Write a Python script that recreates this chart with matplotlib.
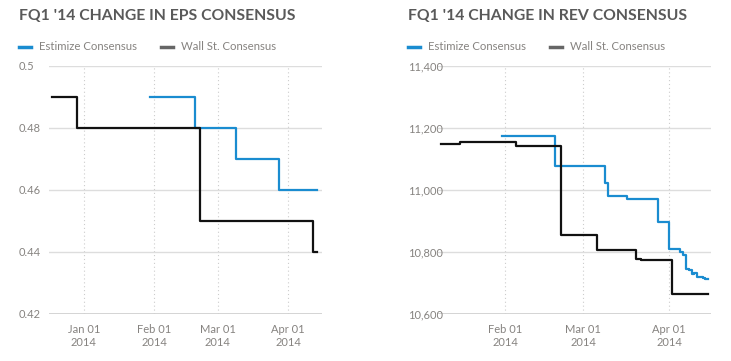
import numpy as np
import pandas as pd
from matplotlib import pyplot as plt
from matplotlib.lines import Line2D
import matplotlib.dates as mdates
from matplotlib.ticker import FuncFormatter

plt.rcParams['font.family'] = ['Lato', 'DejaVu Sans']

# EPS consensus (step changes)
eps_ws_dates = ['2013-12-18', '2013-12-29', '2014-02-21', '2014-04-12', '2014-04-14']
eps_ws_vals = [0.49, 0.48, 0.45, 0.44, 0.44]
eps_est_dates = ['2014-01-30', '2014-02-19', '2014-03-09', '2014-03-28', '2014-04-14']
eps_est_vals = [0.49, 0.48, 0.47, 0.46, 0.46]

# revenue consensus (step changes)
rev_ws_dates = ['2014-01-09', '2014-01-16', '2014-02-05', '2014-02-21', '2014-03-06',
                '2014-03-20', '2014-03-22', '2014-04-02', '2014-04-15']
rev_ws_vals = [11148, 11155, 11142, 10855, 10806, 10777, 10774, 10664, 10664]
rev_est_dates = ['2014-01-31', '2014-02-19', '2014-03-09', '2014-03-10', '2014-03-17',
                 '2014-03-28', '2014-04-01', '2014-04-05', '2014-04-06', '2014-04-07',
                 '2014-04-08', '2014-04-09', '2014-04-10', '2014-04-11', '2014-04-13',
                 '2014-04-14', '2014-04-15']
rev_est_vals = [11175, 11078, 11023, 10981, 10971, 10897, 10810, 10800, 10790, 10745,
                10742, 10729, 10732, 10719, 10716, 10713, 10713]

BLUE = '#1a8cd0'
BLACK = '#111111'
TXT = '#868380'
TITLE = '#595959'

fig = plt.figure(figsize=(7.31, 3.61), dpi=100)

def setup(ax, xlim, ylim, yticks, fmt):
    ax.set_xlim(pd.to_datetime(xlim[0]), pd.to_datetime(xlim[1]))
    ax.set_ylim(*ylim)
    ax.set_yticks(yticks)
    ax.yaxis.set_major_formatter(FuncFormatter(fmt))
    ax.xaxis.set_major_locator(mdates.MonthLocator())
    ax.xaxis.set_major_formatter(mdates.DateFormatter('%b %d\n%Y'))
    for s in ax.spines.values():
        s.set_visible(False)
    ax.tick_params(length=0, colors=TXT, labelsize=8)
    ax.tick_params(axis='y', pad=21.6)
    for lab in ax.get_yticklabels():
        lab.set_horizontalalignment('left')
    ax.tick_params(axis='x', pad=7)
    ax.grid(axis='y', color='#dddddd', lw=1, ls='-')
    ax.grid(axis='x', color='#cccccc', lw=0.8, ls=(0, (1, 2.5)))
    ax.axhline(ylim[0], color='#cccccc', lw=1.2, zorder=1)

def add_legend(ax, x):
    handles = [Line2D([], [], color=BLUE, lw=2.5),
               Line2D([], [], color='#666666', lw=2.5)]
    fig.legend(handles, ['Estimize Consensus', 'Wall St. Consensus'],
               loc='center left', bbox_to_anchor=(x, 1 - 47 / 361), ncol=2,
               frameon=False, fontsize=8.2, labelcolor=TXT, handlelength=1.05,
               handletextpad=0.7, columnspacing=2.1, borderpad=0, borderaxespad=0)

# left: EPS
ax1 = fig.add_axes([49 / 731, 47 / 361, 273 / 731, 248 / 361])
setup(ax1, ('2013-12-16 14:00', '2014-04-16'), (0.42, 0.5),
      [0.42, 0.44, 0.46, 0.48, 0.5], lambda v, p: '{:g}'.format(round(v, 2)))
ax1.step(pd.to_datetime(eps_ws_dates), eps_ws_vals, where='post', color=BLACK, lw=1.6, zorder=3)
ax1.step(pd.to_datetime(eps_est_dates), eps_est_vals, where='post', color=BLUE, lw=1.6, zorder=2)
fig.text(19 / 731, 1 - 16 / 361, "FQ1 '14 CHANGE IN EPS CONSENSUS", fontsize=11.3,
         fontweight='bold', color=TITLE, va='center', ha='left')
add_legend(ax1, 19 / 731)

# right: revenue
ax2 = fig.add_axes([438 / 731, 47 / 361, 273 / 731, 248 / 361])
setup(ax2, ('2014-01-07 22:00', '2014-04-16'), (10600, 11400),
      [10600, 10800, 11000, 11200, 11400], lambda v, p: '{:,.0f}'.format(v))
ax2.step(pd.to_datetime(rev_ws_dates), rev_ws_vals, where='post', color=BLACK, lw=1.6, zorder=3)
ax2.step(pd.to_datetime(rev_est_dates), rev_est_vals, where='post', color=BLUE, lw=1.6, zorder=2)
fig.text(408 / 731, 1 - 16 / 361, "FQ1 '14 CHANGE IN REV CONSENSUS", fontsize=11.3,
         fontweight='bold', color=TITLE, va='center', ha='left')
add_legend(ax2, 408 / 731)

plt.savefig('out.png', dpi=100)
